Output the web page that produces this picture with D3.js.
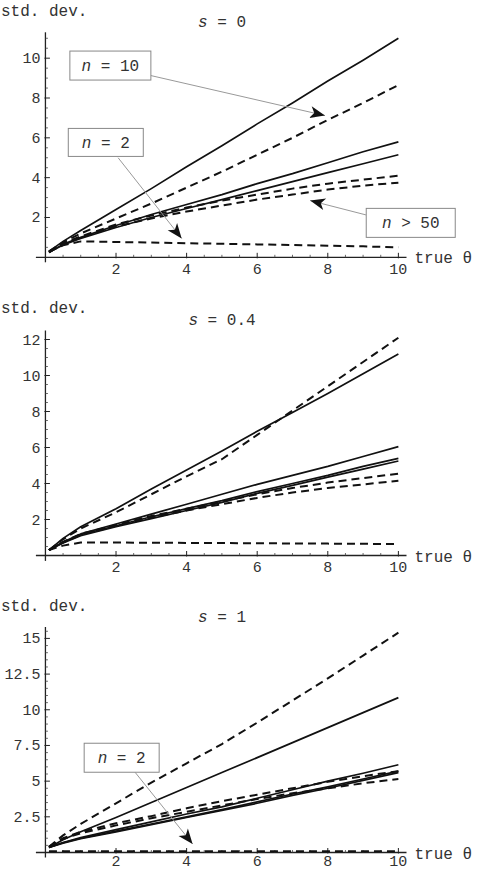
<!DOCTYPE html>
<html>
<head>
<meta charset="utf-8">
<script src="https://cdn.jsdelivr.net/npm/d3@7"></script>
<style>
  html, body { margin: 0; padding: 0; background: #fff; }
  svg { display: block; }
</style>
</head>
<body>
<svg id="chart" width="479" height="873"></svg>
<script>
// ---------- data ----------
const thetaValues = [0.1, 0.5, 1, 2, 3, 4, 5, 6, 7, 8, 9, 10];
const xTickValues = [2, 4, 6, 8, 10];

// panel s = 0
const s0Title = "0";
const s0YTicks = [2, 4, 6, 8, 10];
const s0SolidA = [0.3, 0.8, 1.35, 2.4, 3.45, 4.55, 5.6, 6.7, 7.75, 8.85, 9.9, 11.0];
const s0SolidC = [0.25, 0.65, 1.0, 1.6, 2.15, 2.65, 3.15, 3.7, 4.2, 4.75, 5.3, 5.8];
const s0SolidD = [0.25, 0.62, 0.95, 1.5, 2.0, 2.45, 2.9, 3.35, 3.8, 4.25, 4.7, 5.15];
const s0DashedB = [0.3, 0.75, 1.2, 1.95, 2.7, 3.5, 4.3, 5.15, 6.0, 6.9, 7.75, 8.65];
const s0DashedE = [0.25, 0.7, 1.05, 1.65, 2.1, 2.5, 2.85, 3.15, 3.45, 3.7, 3.9, 4.1];
const s0DashedF = [0.25, 0.68, 1.0, 1.55, 1.95, 2.3, 2.6, 2.9, 3.15, 3.4, 3.6, 3.75];
const s0DashedG = [0.3, 0.6, 0.8, 0.77, 0.74, 0.71, 0.68, 0.65, 0.62, 0.58, 0.55, 0.5];

// panel s = 0.4
const s04Title = "0.4";
const s04YTicks = [2, 4, 6, 8, 10, 12];
const s04SolidA = [0.3, 0.95, 1.6, 2.6, 3.7, 4.75, 5.8, 6.9, 7.95, 9.0, 10.1, 11.2];
const s04SolidC = [0.3, 0.75, 1.2, 1.75, 2.3, 2.85, 3.4, 3.95, 4.45, 4.95, 5.5, 6.05];
const s04SolidD = [0.3, 0.72, 1.15, 1.65, 2.15, 2.6, 3.05, 3.55, 4.0, 4.45, 4.95, 5.4];
const s04SolidE = [0.3, 0.7, 1.1, 1.6, 2.05, 2.5, 2.95, 3.45, 3.9, 4.35, 4.8, 5.25];
const s04DashedB = [0.3, 0.9, 1.5, 2.4, 3.4, 4.4, 5.35, 6.7, 8.05, 9.4, 10.75, 12.1];
const s04DashedF = [0.3, 0.75, 1.2, 1.7, 2.2, 2.6, 3.0, 3.4, 3.75, 4.05, 4.3, 4.55];
const s04DashedG = [0.3, 0.72, 1.15, 1.65, 2.1, 2.5, 2.85, 3.2, 3.5, 3.75, 3.95, 4.15];
const s04DashedH = [0.3, 0.55, 0.72, 0.72, 0.71, 0.7, 0.69, 0.68, 0.67, 0.66, 0.65, 0.63];

// panel s = 1
const s1Title = "1";
const s1YTicks = [2.5, 5, 7.5, 10, 12.5, 15];
const s1SolidB = [0.35, 0.9, 1.45, 2.45, 3.5, 4.55, 5.6, 6.65, 7.7, 8.75, 9.8, 10.85];
const s1SolidC = [0.35, 0.7, 1.05, 1.6, 2.15, 2.7, 3.2, 3.8, 4.4, 5.0, 5.55, 6.15];
const s1SolidD = [0.35, 0.68, 1.0, 1.5, 2.0, 2.5, 3.0, 3.55, 4.1, 4.6, 5.15, 5.7];
const s1SolidE = [0.35, 0.66, 0.97, 1.45, 1.95, 2.45, 2.95, 3.45, 4.0, 4.5, 5.05, 5.6];
const s1DashedA = [0.4, 1.2, 2.0, 3.45, 4.9, 6.25, 7.6, 9.1, 10.65, 12.2, 13.8, 15.4];
const s1DashedF = [0.4, 1.0, 1.45, 2.05, 2.55, 3.1, 3.6, 4.05, 4.5, 4.95, 5.35, 5.7];
const s1DashedG = [0.4, 0.95, 1.35, 1.9, 2.4, 2.85, 3.3, 3.75, 4.15, 4.5, 4.85, 5.15];
const s1DashedH = [0.08, 0.08, 0.08, 0.08, 0.08, 0.08, 0.08, 0.08, 0.08, 0.08, 0.08, 0.08];

// ---------- drawing ----------
const svg = d3.select("#chart");
const FONT = "'Liberation Mono', 'DejaVu Sans Mono', monospace";
const TEXT_COLOR = "#333";

const panels = [
  {
    title: s0Title, yTicks: s0YTicks,
    solid: [s0SolidA, s0SolidC, s0SolidD],
    dashed: [s0DashedB, s0DashedE, s0DashedF, s0DashedG],
    yDomain: [-0.25, 11.3], yRange: [262.3, 32.3],
    titleY: 27, stdY: 16, xLabOff: 16.5,
    notes: [
      { label: "10", op: "=", box: [1.84, 9.63], w: 81, h: 29, from: [2.98, 9.13], to: [7.92, 7.12] },
      { label: "2", op: "=", box: [1.71, 5.77], w: 75, h: 28, from: [2.06, 5.0], to: [3.86, 0.95] },
      { label: "50", op: ">", box: [10.35, 1.73], w: 89, h: 29, from: [9.08, 2.13], to: [7.5, 2.85] }
    ]
  },
  {
    title: s04Title, yTicks: s04YTicks,
    solid: [s04SolidA, s04SolidC, s04SolidD, s04SolidE],
    dashed: [s04DashedB, s04DashedF, s04DashedG, s04DashedH],
    yDomain: [-0.3, 12.5], yRange: [560.9, 330.5],
    titleY: 325, stdY: 313, xLabOff: 16,
    notes: []
  },
  {
    title: s1Title, yTicks: s1YTicks,
    solid: [s1SolidB, s1SolidC, s1SolidD, s1SolidE],
    dashed: [s1DashedA, s1DashedF, s1DashedG, s1DashedH],
    yDomain: [-0.35, 15.8], yRange: [857.5, 627],
    titleY: 622, stdY: 611, xLabOff: 13.5,
    notes: [
      { label: "2", op: "=", box: [2.16, 6.64], w: 75, h: 29, from: [2.54, 5.62], to: [4.17, 0.6] }
    ]
  }
];

const xDomain = [-0.27, 10.23];
const xRange = [35.9, 406.5];

panels.forEach(p => {
  const x = d3.scaleLinear().domain(xDomain).range(xRange);
  const y = d3.scaleLinear().domain(p.yDomain).range(p.yRange);
  const g = svg.append("g");
  const x0 = x(0), y0 = y(0);

  // axes lines
  g.append("line").attr("x1", x(xDomain[0])).attr("x2", x(xDomain[1]))
    .attr("y1", y0).attr("y2", y0).attr("stroke", "#222").attr("stroke-width", 1.3);
  g.append("line").attr("x1", x0).attr("x2", x0)
    .attr("y1", y(p.yDomain[0])).attr("y2", y(p.yDomain[1])).attr("stroke", "#222").attr("stroke-width", 1.3);

  // minor ticks
  const xMinor = d3.range(0.5, 10.01, 0.5).filter(v => !xTickValues.includes(v));
  g.selectAll(".xminor").data(xMinor).enter().append("line")
    .attr("x1", d => x(d)).attr("x2", d => x(d))
    .attr("y1", y0).attr("y2", y0 - 2.5).attr("stroke", "#444").attr("stroke-width", 0.8);
  const yMinor = d3.range(0.5, p.yDomain[1], 0.5).filter(v => !p.yTicks.includes(v));
  g.selectAll(".yminor").data(yMinor).enter().append("line")
    .attr("x1", x0).attr("x2", x0 + 2.5)
    .attr("y1", d => y(d)).attr("y2", d => y(d)).attr("stroke", "#444").attr("stroke-width", 0.8);

  // major ticks
  g.selectAll(".xmajor").data(xTickValues).enter().append("line")
    .attr("x1", d => x(d)).attr("x2", d => x(d))
    .attr("y1", y0 + 1).attr("y2", y0 - 4.5).attr("stroke", "#222").attr("stroke-width", 1);
  g.selectAll(".ymajor").data(p.yTicks).enter().append("line")
    .attr("x1", x0 - 1).attr("x2", x0 + 4.5)
    .attr("y1", d => y(d)).attr("y2", d => y(d)).attr("stroke", "#222").attr("stroke-width", 1);

  // tick labels
  g.selectAll(".xlab").data(xTickValues).enter().append("text")
    .attr("x", d => x(d)).attr("y", y0 + p.xLabOff)
    .attr("text-anchor", "middle").attr("font-family", FONT).attr("font-size", 15)
    .attr("fill", TEXT_COLOR).text(d => d);
  g.selectAll(".ylab").data(p.yTicks).enter().append("text")
    .attr("x", x0 - 5).attr("y", d => y(d) + 5)
    .attr("text-anchor", "end").attr("font-family", FONT).attr("font-size", 15)
    .attr("fill", TEXT_COLOR).text(d => d);

  // axis labels
  g.append("text").attr("x", 1).attr("y", p.stdY)
    .attr("font-family", FONT).attr("font-size", 16).attr("fill", TEXT_COLOR).text("std. dev.");
  g.append("text").attr("x", x(xDomain[1]) + 8).attr("y", y0 + 6)
    .attr("font-family", FONT).attr("font-size", 16).attr("fill", TEXT_COLOR).text("true θ");

  // title
  const t = g.append("text").attr("x", 222).attr("y", p.titleY)
    .attr("text-anchor", "middle").attr("font-family", FONT).attr("font-size", 16).attr("fill", TEXT_COLOR);
  t.append("tspan").attr("font-style", "italic").text("s");
  t.append("tspan").text(" = " + p.title);

  // curves
  const line = d3.line().x((d, i) => x(thetaValues[i])).y(d => y(d));
  p.solid.forEach(s => {
    g.append("path").attr("d", line(s)).attr("fill", "none")
      .attr("stroke", "#111").attr("stroke-width", 1.7).attr("stroke-linejoin", "round");
  });
  p.dashed.forEach(s => {
    g.append("path").attr("d", line(s)).attr("fill", "none")
      .attr("stroke", "#111").attr("stroke-width", 2).attr("stroke-dasharray", "8,5");
  });

  // annotations
  p.notes.forEach(n => {
    const fx = x(n.from[0]), fy = y(n.from[1]);
    const tx = x(n.to[0]), ty = y(n.to[1]);
    g.append("line").attr("x1", fx).attr("y1", fy).attr("x2", tx).attr("y2", ty)
      .attr("stroke", "#999").attr("stroke-width", 1);
    const ang = Math.atan2(ty - fy, tx - fx) * 180 / Math.PI;
    g.append("path").attr("d", "M0,0 L-15,-6 L-11,0 L-15,6 Z")
      .attr("transform", `translate(${tx},${ty}) rotate(${ang})`)
      .attr("fill", "#111");
    const bx = x(n.box[0]), by = y(n.box[1]);
    g.append("rect").attr("x", bx - n.w / 2).attr("y", by - n.h / 2)
      .attr("width", n.w).attr("height", n.h)
      .attr("fill", "#fff").attr("stroke", "#888").attr("stroke-width", 1);
    const tt = g.append("text").attr("x", bx).attr("y", by + 5.5)
      .attr("text-anchor", "middle").attr("font-family", FONT).attr("font-size", 16)
      .attr("fill", TEXT_COLOR).attr("xml:space", "preserve");
    tt.append("tspan").attr("font-style", "italic").text("n");
    tt.append("tspan").text(" " + n.op + " " + n.label);
  });
});
</script>
</body>
</html>
